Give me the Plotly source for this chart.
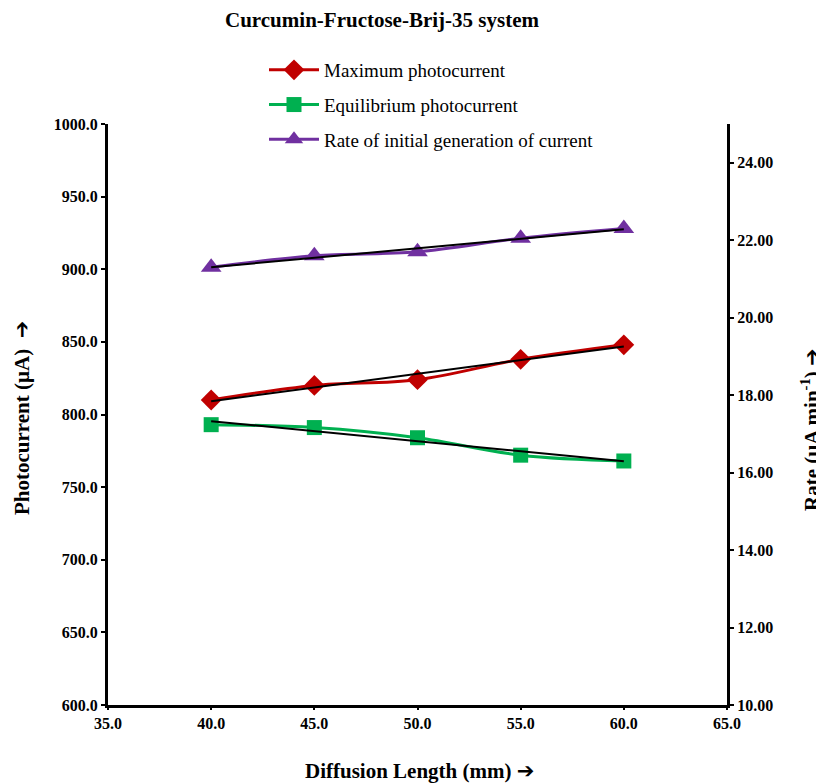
import numpy as np
import plotly.graph_objects as go

diffusion_length = [40, 45, 50, 55, 60]
max_photocurrent = [810, 820, 824, 838, 848]
eq_photocurrent = [793, 791, 784, 772, 768]
rate_initial = [21.3, 21.6, 21.7, 22.05, 22.3]

x_ticks = [35, 40, 45, 50, 55, 60, 65]
y_ticks = [600, 650, 700, 750, 800, 850, 900, 950, 1000]
y2_ticks = [10, 12, 14, 16, 18, 20, 22, 24]

RED = "#C00000"
GREEN = "#00B050"
PURPLE = "#7030A0"
FONT = "Liberation Serif"
ARROW = '<span style="font-family:DejaVu Sans">➔</span>'

def trend(xs, ys):
    m, c = np.polyfit(xs, ys, 1)
    xe = [xs[0], xs[-1]]
    return xe, [m * v + c for v in xe]

fig = go.Figure()

fig.add_trace(go.Scatter(x=diffusion_length, y=max_photocurrent, name="Maximum photocurrent",
                         mode="lines+markers", line=dict(color=RED, width=3, shape="spline"),
                         marker=dict(symbol="diamond", size=16, color=RED),
                         legendgroup="a"))
fig.add_trace(go.Scatter(x=diffusion_length, y=eq_photocurrent, name="Equilibrium photocurrent",
                         mode="lines+markers", line=dict(color=GREEN, width=3, shape="spline"),
                         marker=dict(symbol="square", size=15, color=GREEN),
                         legendgroup="b"))
fig.add_trace(go.Scatter(x=diffusion_length, y=rate_initial, name="Rate of initial generation of current",
                         mode="lines+markers", line=dict(color=PURPLE, width=3, shape="spline"),
                         marker=dict(symbol="triangle-up", size=18, color=PURPLE),
                         yaxis="y2", legendgroup="c"))

for ys, ax in [(max_photocurrent, "y"), (eq_photocurrent, "y"), (rate_initial, "y2")]:
    tx, ty = trend(diffusion_length, ys)
    fig.add_trace(go.Scatter(x=tx, y=ty, mode="lines", line=dict(color="black", width=2),
                             yaxis=ax, showlegend=False, hoverinfo="skip"))

axis_common = dict(showline=True, linecolor="black", linewidth=3, showgrid=False, zeroline=False,
                   ticks="outside", tickcolor="black", tickwidth=2, ticklen=4,
                   tickfont=dict(family=FONT, size=16, color="black", weight="bold"))

fig.update_layout(
    width=816, height=783,
    margin=dict(l=108, r=89, t=124, b=78),
    paper_bgcolor="white", plot_bgcolor="white",
    font=dict(family=FONT, color="black"),
    title=dict(text="<b>Curcumin-Fructose-Brij-35 system</b>", x=382 / 816, xanchor="center",
               y=1 - 20 / 783, yanchor="middle", font=dict(family=FONT, size=21, color="black")),
    xaxis=dict(range=[35, 65], tickvals=x_ticks, tickformat=".1f", **{**axis_common, "ticklen": 2}),
    yaxis=dict(range=[600, 1000], tickvals=y_ticks, tickformat=".1f", **axis_common),
    yaxis2=dict(range=[10, 25], tickvals=y2_ticks, tickformat=".2f", overlaying="y", side="right",
                **axis_common),
    legend=dict(x=(264 - 108) / 619, xanchor="left", y=1 + (124 - 51) / 581, yanchor="top",
                font=dict(family=FONT, size=19, color="black"), tracegroupgap=7,
                bgcolor="rgba(0,0,0,0)", itemwidth=50),
    showlegend=True,
)

fig.add_annotation(text="<b>Diffusion Length (mm) </b>" + ARROW, xref="paper", yref="paper",
                   x=(419 - 108) / 619, y=-(771 - 705) / 581, xanchor="center", yanchor="middle",
                   showarrow=False, font=dict(family=FONT, size=21, color="black"))
fig.add_annotation(text="<b>Photocurrent (µA)  </b>" + ARROW, xref="paper", yref="paper",
                   x=-(108 - 22) / 619, y=(705 - 418) / 581, xanchor="center", yanchor="middle",
                   textangle=-90, showarrow=False, font=dict(family=FONT, size=21, color="black"))
fig.add_annotation(text="<b>Rate (µA min<sup>-1</sup>) </b>" + ARROW, xref="paper", yref="paper",
                   x=1 + (810 - 727) / 619, y=(705 - 430) / 581, xanchor="center", yanchor="middle",
                   textangle=-90, showarrow=False, font=dict(family=FONT, size=21, color="black"))

fig.write_html("out.html")
